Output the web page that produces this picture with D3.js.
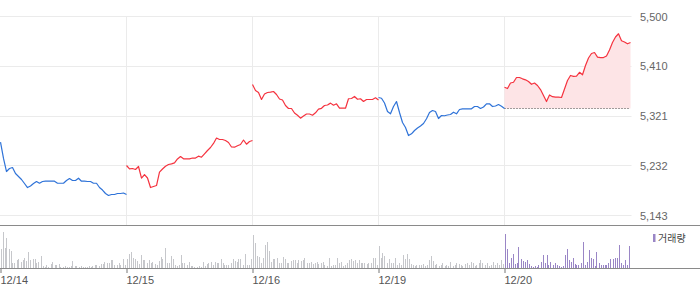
<!DOCTYPE html>
<html>
<head>
<meta charset="utf-8">
<script src="https://cdn.jsdelivr.net/npm/d3@7"></script>
<style>
  html, body { margin: 0; padding: 0; background: #fff; }
  svg { display: block; font-family: "Liberation Sans", Arial, sans-serif; }
</style>
</head>
<body>
<div id="chart"></div>
<script>
'use strict'

const days = ['12/14', '12/15', '12/16', '12/19', '12/20']

// intraday index, sampled evenly over each session
const price1214 = [5274.5, 5245.3, 5221.9, 5227.3, 5229.1, 5218.3, 5213.0, 5207.6, 5200.4, 5193.2, 5195.9,
  5200.4, 5204.0, 5200.9, 5204.0, 5204.5, 5204.5, 5204.5, 5204.5, 5200.9, 5200.9, 5200.9, 5205.8, 5209.4,
  5205.8, 5205.8, 5209.9, 5204.5, 5204.5, 5204.0, 5204.0, 5200.9, 5200.9, 5193.2, 5188.7, 5182.5, 5178.9,
  5180.7, 5180.7, 5182.5, 5182.5, 5183.4, 5180.7]
const price1215 = [5232.7, 5226.8, 5227.3, 5225.5, 5230.9, 5209.9, 5216.5, 5210.3, 5193.2, 5195.0, 5196.8,
  5220.7, 5226.4, 5231.4, 5234.5, 5235.7, 5237.5, 5244.4, 5248.8, 5244.7, 5244.7, 5244.7, 5246.1, 5246.1,
  5249.4, 5247.6, 5253.7, 5259.6, 5265.0, 5272.2, 5282.0, 5279.3, 5279.3, 5277.5, 5274.0, 5265.9, 5265.5,
  5268.0, 5270.4, 5278.4, 5270.9, 5275.7, 5277.5]
const price1216 = [5378.0, 5367.2, 5363.7, 5351.1, 5361.0, 5363.7, 5364.2, 5365.4, 5360.1, 5352.0, 5350.2,
  5340.3, 5335.0, 5335.0, 5326.9, 5322.8, 5317.6, 5321.5, 5325.1, 5325.1, 5322.9, 5327.2, 5333.7, 5335.3,
  5340.3, 5341.2, 5344.6, 5340.9, 5343.4, 5335.5, 5335.5, 5335.5, 5352.4, 5352.9, 5356.5, 5351.5, 5352.4,
  5347.5, 5351.1, 5351.1, 5351.1, 5354.1, 5350.2]
const price1219 = [5354.7, 5353.4, 5344.8, 5329.6, 5325.4, 5338.5, 5347.5, 5327.8, 5309.8, 5300.9, 5286.5,
  5289.6, 5295.5, 5300.0, 5303.6, 5308.0, 5316.5, 5327.8, 5331.4, 5329.6, 5317.0, 5322.4, 5321.9, 5323.3,
  5324.2, 5328.3, 5325.4, 5333.2, 5334.4, 5334.4, 5334.4, 5334.4, 5338.5, 5338.5, 5335.0, 5337.6, 5343.4,
  5343.4, 5338.5, 5339.4, 5342.1, 5339.1, 5335.0]
const price1220 = [5373.2, 5370.8, 5380.7, 5382.0, 5390.6, 5390.6, 5388.2, 5386.4, 5383.4, 5378.4, 5380.7,
  5376.2, 5369.0, 5358.3, 5347.5, 5359.2, 5356.1, 5355.2, 5355.2, 5354.7, 5369.9, 5385.2, 5394.2, 5392.7,
  5392.9, 5399.9, 5395.4, 5412.1, 5425.5, 5433.6, 5435.4, 5427.0, 5426.1, 5426.4, 5429.1, 5439.9, 5453.4,
  5463.2, 5469.0, 5456.4, 5454.3, 5451.0, 5453.4]

// trading volume per bar
const vol1214 = [19, 36, 20, 30, 19, 17, 5, 5, 8, 9, 6, 8, 10, 7, 16, 8, 9, 9, 5, 6, 12, 2, 1, 3, 1, 4, 6, 3, 3, 4,
  1, 1, 2, 1, 1, 2, 7, 2, 2, 1, 2, 1, 1, 1, 2, 1, 2, 3, 3, 2, 4, 4, 6, 5, 5, 8, 8, 3, 3, 5, 3, 9, 3]
const vol1215 = [9, 14, 16, 10, 9, 7, 4, 13, 8, 8, 5, 8, 5, 6, 4, 3, 7, 11, 9, 20, 5, 5, 12, 9, 3, 2, 3, 13, 5, 5,
  3, 6, 2, 2, 1, 1, 2, 1, 6, 2, 4, 5, 6, 3, 6, 5, 5, 9, 5, 3, 3, 3, 5, 9, 7, 6, 9, 9, 3, 14, 3, 3, 9]
const vol1216 = [33, 25, 12, 11, 5, 10, 23, 26, 17, 6, 9, 9, 10, 5, 5, 11, 9, 5, 5, 7, 8, 8, 5, 8, 7, 8, 10, 5, 5,
  6, 4, 5, 6, 4, 5, 6, 3, 2, 10, 2, 3, 3, 10, 5, 6, 2, 3, 5, 8, 9, 7, 8, 5, 8, 5, 5, 5, 4, 5, 5, 10, 10, 3]
const vol1219 = [22, 10, 15, 12, 5, 9, 5, 5, 10, 3, 5, 3, 13, 9, 14, 9, 4, 3, 2, 3, 3, 3, 4, 2, 3, 8, 12, 7, 3, 4,
  2, 3, 5, 2, 3, 2, 6, 2, 3, 5, 4, 3, 2, 4, 5, 3, 6, 5, 2, 3, 5, 8, 5, 3, 5, 2, 3, 6, 3, 5, 3, 8, 4]
const vol1220 = [34, 19, 5, 10, 14, 4, 5, 21, 9, 7, 6, 8, 4, 2, 1, 2, 1, 3, 6, 13, 5, 13, 3, 6, 3, 5, 3, 2, 1, 2,
  13, 19, 8, 6, 10, 4, 3, 3, 5, 26, 3, 6, 18, 10, 9, 2, 16, 5, 3, 3, 3, 3, 5, 9, 9, 10, 10, 23, 5, 3, 8, 3, 22]

const yTicks = [5143, 5232.25, 5321.5, 5410.75, 5500]
const legendLabel = '거래량'

const prices = [price1214, price1215, price1216, price1219, price1220]
const volumes = [vol1214, vol1215, vol1216, vol1219, vol1220]

const width = 700
const height = 289
const plotRight = 631.5
const red = '#f5333f'
const blue = '#2f73d8'

const svg = d3.select('#chart').append('svg')
  .attr('width', width)
  .attr('height', height)

const x = d3.scaleLinear().domain([0, days.length]).range([0.5, 630.5])
const y = d3.scaleLinear().domain([yTicks[0], yTicks[yTicks.length - 1]]).range([215.5, 16.5])
const yv = d3.scaleLinear().domain([0, 36]).range([268, 232])

/*** grid ***/

const grid = svg.append('g')
grid.selectAll('.hgrid')
  .data(yTicks)
  .join('line')
  .attr('x1', 0).attr('x2', plotRight)
  .attr('y1', d => Math.round(y(d) - 0.5) + 0.5)
  .attr('y2', d => Math.round(y(d) - 0.5) + 0.5)
  .style('stroke', '#ebebeb')

grid.selectAll('.vgrid')
  .data(d3.range(1, days.length))
  .join('line')
  .attr('x1', d => Math.round(x(d) - 0.5) + 0.5)
  .attr('x2', d => Math.round(x(d) - 0.5) + 0.5)
  .attr('y1', y(yTicks[yTicks.length - 1]))
  .attr('y2', 225)
  .style('stroke', '#ebebeb')

// y axis labels on the right
const yAxis = d3.axisRight(y)
  .tickValues(yTicks)
  .tickSize(0)
  .tickPadding(0)
  .tickFormat(d => d3.format(',')(Math.floor(d)))

svg.append('g')
  .attr('transform', 'translate(640, 0)')
  .call(yAxis)
  .call(g => g.select('.domain').remove())
  .call(g => g.selectAll('text')
    .attr('x', 0)
    .style('font-family', '"Liberation Sans", Arial, sans-serif')
    .style('font-size', '11px')
    .style('fill', '#666'))

/*** price lines ***/

const series = prices.map((vals, d) => {
  const prevClose = d > 0 ? prices[d - 1][prices[d - 1].length - 1] : vals[0]
  const close = vals[vals.length - 1]
  return {
    day: d,
    prevClose,
    up: close > prevClose,
    points: vals.map((v, i) => ({ t: d + i / (vals.length - 1), v }))
  }
})

const line = d3.line().x(p => x(p.t)).y(p => y(p.v))

// today's fill against previous close
const today = series[series.length - 1]
const area = d3.area()
  .x(p => x(p.t))
  .y0(y(today.prevClose))
  .y1(p => y(p.v))

svg.append('path')
  .datum(today.points)
  .attr('d', area)
  .style('fill', today.up ? '#fde4e6' : '#e3ecfb')

svg.append('line')
  .attr('x1', x(today.day)).attr('x2', x(today.day + 1))
  .attr('y1', Math.round(y(today.prevClose)) + 0.5)
  .attr('y2', Math.round(y(today.prevClose)) + 0.5)
  .style('stroke', '#444')
  .style('stroke-dasharray', '1,2')

svg.selectAll('.price')
  .data(series)
  .join('path')
  .attr('class', 'price')
  .attr('d', s => line(s.points))
  .style('fill', 'none')
  .style('stroke', s => s.up ? red : blue)
  .style('stroke-width', 1.2)
  .style('stroke-linejoin', 'round')

/*** volume ***/

svg.append('line')
  .attr('x1', 0).attr('x2', width)
  .attr('y1', 225.5).attr('y2', 225.5)
  .style('stroke', '#8a8a8a')

const bars = []
volumes.forEach((vals, d) => {
  vals.forEach((v, i) => bars.push({ day: d, t: d + i / vals.length, v }))
})

svg.append('g').selectAll('rect')
  .data(bars)
  .join('rect')
  .attr('x', b => Math.round(x(b.t)))
  .attr('width', 1)
  .attr('y', b => yv(b.v))
  .attr('height', b => yv(0) - yv(b.v))
  .style('fill', b => b.day === days.length - 1 ? '#9a86c6' : '#c6c7cb')

// bottom axis
const xAxis = d3.axisBottom(x)
  .tickValues(d3.range(days.length))
  .tickSize(5)
  .tickPadding(3)
  .tickFormat(d => days[d])

svg.append('g')
  .attr('transform', 'translate(0, 268)')
  .call(xAxis)
  .call(g => g.select('.domain').remove())
  .call(g => g.selectAll('.tick line').style('stroke', '#777'))
  .call(g => g.selectAll('text')
    .attr('text-anchor', 'start')
    .attr('dx', -0.5)
    .style('font-family', '"Liberation Sans", Arial, sans-serif')
    .style('font-size', '11px')
    .style('fill', '#555'))

svg.append('line')
  .attr('x1', 0).attr('x2', width)
  .attr('y1', 268.5).attr('y2', 268.5)
  .style('stroke', '#8a8a8a')

// legend
svg.append('rect')
  .attr('x', 653).attr('y', 234)
  .attr('width', 2.5).attr('height', 8)
  .style('fill', '#9a86c6')

svg.append('text')
  .attr('x', 658).attr('y', 238)
  .attr('dy', '0.35em')
  .style('font-family', '"Noto Sans CJK KR", sans-serif')
  .style('font-size', '10px')
  .style('fill', '#444')
  .text(legendLabel)
</script>
</body>
</html>
